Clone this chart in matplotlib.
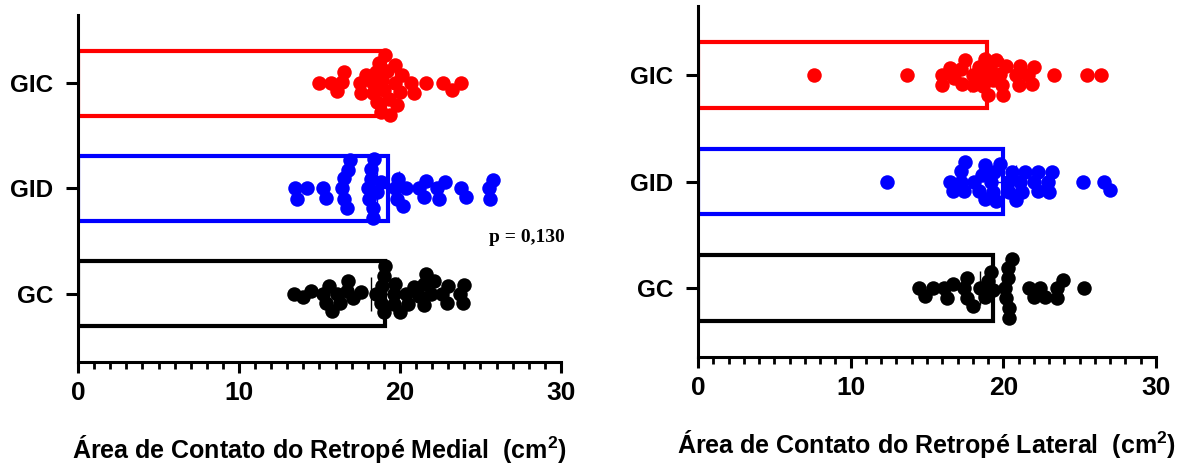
import numpy as np
import matplotlib.pyplot as plt
from matplotlib.ticker import MultipleLocator

plt.rcParams['font.family'] = ['Liberation Sans', 'DejaVu Sans']
plt.rcParams['font.weight'] = 'bold'
plt.rcParams['mathtext.fontset'] = 'custom'
plt.rcParams['mathtext.bf'] = 'Liberation Sans:bold'
plt.rcParams['mathtext.rm'] = 'Liberation Sans:bold'

# grupos (de baixo para cima)
groups = ['GC', 'GID', 'GIC']
colors = ['#000000', '#0000FF', '#FF0000']

# Retropé medial (cm2)
medial_gc = [13.4, 14.0, 14.5, 15.2, 15.4, 15.6, 15.8, 16.1, 16.3, 16.7, 16.8, 17.1, 17.6,
             18.5, 18.8, 18.9, 19.0, 19.0, 19.1, 19.6, 19.6, 19.7, 20.0, 20.4, 20.5, 20.9,
             21.2, 21.5, 21.5, 21.6, 21.9, 22.1, 22.6, 22.9, 23.0, 23.7, 23.9, 24.0]
medial_gid = [13.5, 13.6, 14.2, 15.2, 15.4, 16.4, 16.5, 16.5, 16.7, 16.8, 16.9, 18.0, 18.1,
              18.2, 18.2, 18.3, 18.3, 18.4, 18.6, 18.8, 19.7, 19.8, 19.9, 20.2, 20.4, 21.2,
              21.5, 21.6, 22.3, 22.4, 22.8, 23.8, 24.1, 25.5, 25.6, 25.8]
medial_gic = [15.0, 15.7, 16.1, 16.4, 16.5, 17.5, 17.6, 17.9, 18.3, 18.3, 18.5, 18.6, 18.7,
              18.8, 18.9, 19.0, 19.1, 19.2, 19.3, 19.4, 19.7, 19.7, 19.8, 20.0, 20.1, 20.7,
              20.9, 21.6, 22.7, 23.2, 23.8]

# Retropé lateral (cm2)
lateral_gc = [14.5, 14.9, 15.4, 16.1, 16.3, 16.7, 17.4, 17.6, 17.6, 18.0, 18.5, 18.8, 19.0,
              19.2, 19.3, 20.1, 20.2, 20.3, 20.3, 20.4, 20.4, 20.6, 21.7, 22.0, 22.4, 22.7,
              23.5, 23.5, 23.9, 25.3]
lateral_gid = [12.4, 16.5, 16.7, 17.2, 17.2, 17.4, 17.5, 18.1, 18.4, 18.6, 18.8, 18.8, 19.2,
               19.3, 19.4, 19.5, 19.8, 20.3, 20.4, 20.6, 20.8, 21.1, 21.2, 21.4, 22.0, 22.3,
               22.3, 22.9, 23.0, 23.2, 25.2, 26.6, 27.0]
lateral_gic = [7.6, 13.7, 16.0, 16.0, 16.5, 16.8, 17.2, 17.3, 17.5, 18.0, 18.0, 18.4, 18.7,
               18.7, 18.8, 19.0, 19.1, 19.3, 19.5, 19.8, 19.9, 20.0, 20.2, 20.8, 21.0, 21.1,
               21.6, 21.9, 22.0, 23.3, 25.5, 26.4]

# médias (barras) e erro padrão
medial_mean = [19.05, 19.25, 19.1]
medial_err = [0.85, 0.7, 0.6]
lateral_mean = [19.3, 20.0, 18.9]
lateral_err = [0.8, 0.8, 1.1]

p_text = 'p = 0,130'

W, H, DPI = 11.82, 4.70, 100
YLIM = (-0.65, 2.65)
XLIM = (0, 30)
DOT_PX = 14.5


def swarm_offsets(values, sx, sy, d):
    # beeswarm simples em pixels; retorna deslocamentos em unidades de dados (y)
    order = np.argsort(values)
    placed = []
    offs = np.zeros(len(values))
    for i in order:
        xp = values[i] * sx
        blocked = []
        for xq, yq in placed:
            dx = abs(xp - xq)
            if dx < d:
                h = np.sqrt(d * d - dx * dx)
                blocked.append((yq - h, yq + h))
        cands = [0.0] + [b for iv in blocked for b in iv]
        cands.sort(key=lambda c: (abs(c), c))
        yp = 0.0
        for c in cands:
            if all(not (lo + 1e-6 < c < hi - 1e-6) for lo, hi in blocked):
                yp = c
                break
        placed.append((xp, yp))
        offs[i] = yp / sy
    return offs


def draw_panel(ax, data, means, errs, xlabel):
    bb = ax.get_position()
    sx = bb.width * W * DPI / (XLIM[1] - XLIM[0])
    sy = bb.height * H * DPI / (YLIM[1] - YLIM[0])
    for k, (vals, m, e, c) in enumerate(zip(data, means, errs, colors)):
        ax.barh(k, m, height=0.62, color='white', edgecolor=c, linewidth=3.0, zorder=1)
        v = np.array(vals)
        off = swarm_offsets(v, sx, sy, DOT_PX * 0.7)
        ax.scatter(v, k + off, s=(DOT_PX * 72 / DPI) ** 2, color=c, linewidths=0, zorder=3)
        ax.errorbar(m, k, xerr=e, color=c, elinewidth=1.0, capsize=12, capthick=1.0, zorder=2)
    ax.set_xlim(*XLIM)
    ax.set_ylim(*YLIM)
    ax.set_yticks(range(len(groups)))
    ax.set_yticklabels(groups)
    ax.set_xticks([0, 10, 20, 30])
    ax.xaxis.set_minor_locator(MultipleLocator(1))
    for s in ['top', 'right']:
        ax.spines[s].set_visible(False)
    for s in ['left', 'bottom']:
        ax.spines[s].set_linewidth(2.2)
    ax.tick_params(axis='y', length=9, width=2.2, pad=9, labelsize=17.5)
    ax.tick_params(axis='x', which='major', length=8, width=2.2, pad=6, labelsize=19)
    ax.tick_params(axis='x', which='minor', length=5, width=2.0)
    ax.set_xlabel(xlabel, fontsize=18, fontweight='bold', labelpad=20)


fig = plt.figure(figsize=(W, H), dpi=DPI)
ax1 = fig.add_axes([0.066, 0.2298, 0.4086, 0.7383])
ax2 = fig.add_axes([0.5905, 0.2404, 0.3875, 0.7468])

draw_panel(ax1, [medial_gc, medial_gid, medial_gic], medial_mean, medial_err,
           'Área de Contato do Retropé Medial  (cm$^{\\mathbf{2}}$)')
draw_panel(ax2, [lateral_gc, lateral_gid, lateral_gic], lateral_mean, lateral_err,
           'Área de Contato do Retropé Lateral  (cm$^{\\mathbf{2}}$)')

ax1.text(27.9, 0.53, p_text, family=['Liberation Serif', 'DejaVu Serif'], fontweight='bold',
         fontsize=14, ha='center', va='center', clip_on=False)

fig.savefig('out.png', dpi=DPI)
